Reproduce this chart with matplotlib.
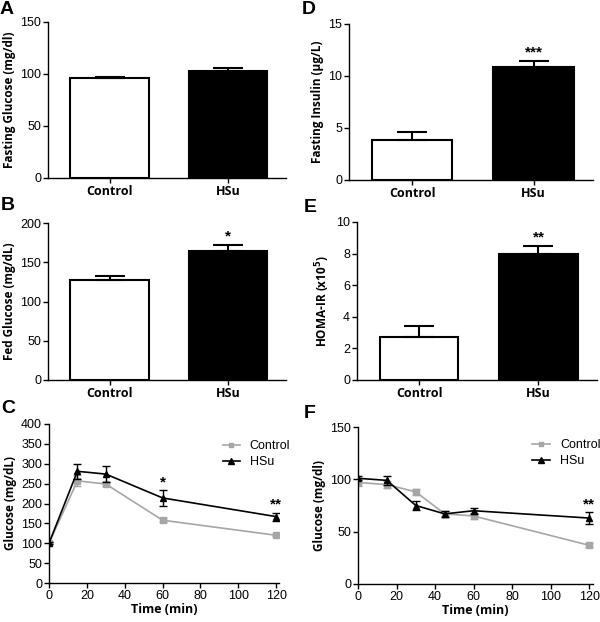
import matplotlib
matplotlib.use("Agg")
import matplotlib.pyplot as plt
from matplotlib.lines import Line2D
import numpy as np

# ---- data ----
groups = ["Control", "HSu"]

fasting_glucose = [96, 103]
fasting_glucose_err = [1.5, 2.5]

fed_glucose = [127, 164]
fed_glucose_err = [5, 8]

fasting_insulin = [3.8, 10.9]
fasting_insulin_err = [0.8, 0.55]

homa_ir = [2.75, 8.0]
homa_ir_err = [0.65, 0.45]

gtt_time = [0, 15, 30, 60, 120]
gtt_control = [100, 257, 249, 158, 120]
gtt_control_err = [3, 14, 6, 5, 3]
gtt_hsu = [100, 281, 274, 214, 167]
gtt_hsu_err = [3, 19, 20, 20, 10]

itt_time = [0, 15, 30, 45, 60, 120]
itt_control = [97, 95, 88, 67, 65, 37]
itt_control_err = [3, 3, 3, 3, 3, 2]
itt_hsu = [101, 99, 75, 67, 70, 63]
itt_hsu_err = [2, 4, 4, 3, 3, 6]

W, H = 600, 622
fig = plt.figure(figsize=(W / 100, H / 100), dpi=100)

tickfont = "Liberation Sans"
labfont = "Open Sans"
grey = "#a6a6a6"


def px_axes(left, top, right, bottom):
    return fig.add_axes([left / W, 1 - bottom / H, (right - left) / W, (bottom - top) / H])


def style(ax):
    for s in ["top", "right"]:
        ax.spines[s].set_visible(False)
    for s in ["left", "bottom"]:
        ax.spines[s].set_linewidth(1.0)
    ax.tick_params(direction="out", length=3.5, width=1.0, labelsize=9, pad=1.5)
    for lab in ax.get_yticklabels():
        lab.set_fontfamily(tickfont)


def bar_panel(ax, vals, errs, ymax, step, ylabel, star=None):
    x = np.arange(len(vals))
    ax.bar(x, vals, width=0.66, color=["white", "black"], edgecolor="black",
           linewidth=1.5, zorder=2)
    for xi, v, e in zip(x, vals, errs):
        ax.errorbar(xi, v, yerr=[[0], [e]], color="black", capsize=11,
                    elinewidth=1.5, capthick=1.5, zorder=3)
    ax.set_xlim(-0.52, 1.49)
    ax.set_ylim(0, ymax)
    ax.set_yticks(np.arange(0, ymax + step / 2, step))
    ax.set_xticks(x)
    ax.set_xticklabels(groups, fontfamily=labfont, fontweight="bold", fontsize=9)
    ax.set_ylabel(ylabel, fontfamily=labfont, fontweight="bold", fontsize=8.5, labelpad=3)
    style(ax)
    if star:
        ax.text(1, vals[1] + errs[1] + ymax * 0.01, star, ha="center", va="bottom",
                fontsize=11, fontweight="bold", fontfamily=tickfont)


def line_panel(ax, t, c, ce, h, he, ymax, step, xmax, stars, leg_xy, hl):
    ax.errorbar(t, c, yerr=ce, color=grey, marker="s", ms=4, lw=1.2, capsize=3,
                elinewidth=1.0, zorder=2)
    ax.errorbar(t, h, yerr=he, color="black", marker="^", ms=5, lw=1.2, capsize=3,
                elinewidth=1.0, zorder=3)
    ax.set_xlim(0, xmax)
    ax.set_ylim(0, ymax)
    ax.set_yticks(np.arange(0, ymax + step / 2, step))
    ax.set_xticks(np.arange(0, 121, 20))
    ax.set_xlabel("Time (min)", fontfamily=labfont, fontweight="bold", fontsize=9, labelpad=1)
    ax.set_ylabel("Glucose (mg/dL)" if ymax > 200 else "Glucose (mg/dl)",
                  fontfamily=labfont, fontweight="bold", fontsize=8.5, labelpad=3)
    style(ax)
    for lab in ax.get_xticklabels():
        lab.set_fontfamily(tickfont)
    for ti, s in stars:
        i = list(t).index(ti)
        ax.text(ti, h[i] + he[i] + ymax * 0.005, s, ha="center", va="bottom",
                fontsize=11, fontweight="bold", fontfamily=tickfont)
    handles = [Line2D([], [], color=grey, marker="s", ms=3, lw=1.2),
               Line2D([], [], color="black", marker="^", ms=4, lw=1.2)]
    ax.legend(handles, groups, loc="upper left",
              bbox_to_anchor=(leg_xy[0] / W, 1 - leg_xy[1] / H),
              bbox_transform=fig.transFigure, frameon=False, borderpad=0,
              borderaxespad=0, prop={"family": tickfont, "size": 9},
              handlelength=hl, handletextpad=0.8, labelspacing=0.35)


axA = px_axes(48, 22, 286, 178)
bar_panel(axA, fasting_glucose, fasting_glucose_err, 150, 50, "Fasting Glucose (mg/dl)")

axB = px_axes(48, 223, 286, 380)
bar_panel(axB, fed_glucose, fed_glucose_err, 200, 50, "Fed Glucose (mg/dL)", "*")

axD = px_axes(349, 24, 593, 180)
bar_panel(axD, fasting_insulin, fasting_insulin_err, 15, 5, "Fasting Insulin (\u00b5g/L)", "***")

axE = px_axes(357, 222, 597, 380)
bar_panel(axE, homa_ir, homa_ir_err, 10, 2, r"HOMA-IR (x10$^{\mathbf{5}}$)", "**")

axC = px_axes(49, 424, 279, 583)
line_panel(axC, gtt_time, gtt_control, gtt_control_err, gtt_hsu, gtt_hsu_err,
           400, 50, 121.5, [(60, "*"), (120, "**")], (223, 440), 1.35)

axF = px_axes(358, 427, 593, 584)
line_panel(axF, itt_time, itt_control, itt_control_err, itt_hsu, itt_hsu_err,
           150, 50, 122, [(120, "**")], (532, 439), 1.45)

# panel letters
for letter, x, y in [("A", 0, 1), ("B", 1, 197), ("C", 1, 400),
                     ("D", 302, 1), ("E", 304, 199), ("F", 304, 405)]:
    fig.text(x / W, 1 - y / H, letter, fontsize=14, fontfamily=tickfont,
             fontweight="bold", va="top", ha="left")

fig.savefig("out.png", dpi=100)
